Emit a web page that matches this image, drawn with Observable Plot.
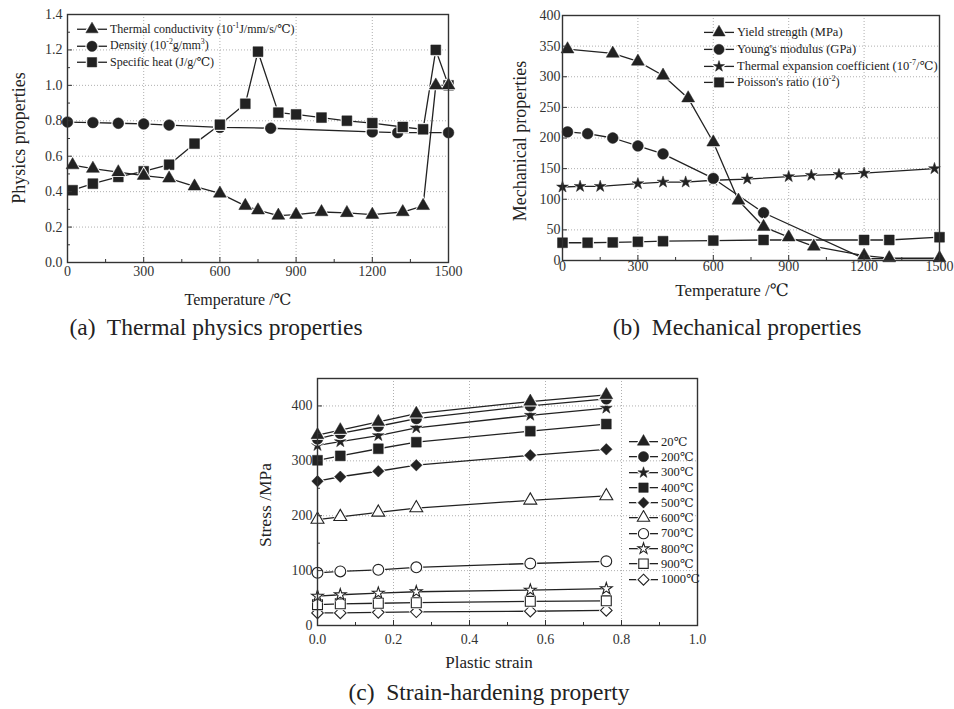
<!DOCTYPE html>
<html><head><meta charset="utf-8">
<script src="https://cdn.jsdelivr.net/npm/d3@7"></script>
<script src="https://cdn.jsdelivr.net/npm/@observablehq/plot@0.6"></script>
<style>
body{margin:0;background:#fff}
#fig{position:relative;width:954px;height:709px;background:#fff;font-family:"Liberation Serif","DejaVu Serif",serif;color:#222;overflow:hidden}
.abs{position:absolute;white-space:nowrap}
.cap{transform:translate(-50%,-50%)}
.axl{transform:translate(-50%,-50%)}
.rot{transform:translate(-50%,-50%) rotate(-90deg)}
.leg{position:absolute;white-space:nowrap}
.leg .row{display:flex;align-items:center}
.leg svg{display:block;margin-right:2px}
sup{font-size:65%;line-height:0;vertical-align:super}
</style></head>
<body><div id="fig"></div>
<script>
// ---------- Panel (a): thermal physics properties ----------
const tcT = [20,100,200,300,400,500,600,700,750,830,900,1000,1100,1200,1320,1400,1450,1500];
const tcV = [0.55,0.53,0.51,0.49,0.475,0.43,0.39,0.32,0.295,0.265,0.27,0.285,0.28,0.27,0.285,0.32,1.0,1.0];
const denT = [0,100,200,300,400,600,800,1200,1300,1500];
const denV = [0.793,0.79,0.786,0.782,0.776,0.763,0.758,0.737,0.733,0.733];
const shT = [20,100,200,300,400,500,600,700,750,830,900,1000,1100,1200,1320,1400,1450,1500];
const shV = [0.408,0.445,0.483,0.515,0.552,0.671,0.778,0.896,1.19,0.846,0.836,0.818,0.80,0.787,0.765,0.752,1.2,1.0];
const legendA = ["Thermal conductivity (10<sup>-1</sup>J/mm/s/℃)","Density (10<sup>-2</sup>g/mm<sup>3</sup>)","Specific heat (J/g/℃)"];

// ---------- Panel (b): mechanical properties ----------
const ysT = [20,200,300,400,500,600,700,800,900,1000,1200,1300,1500];
const ysV = [345,338,325,302,265,193,98,55,38,23,8,4,4];
const ymT = [20,100,200,300,400,600,800,1200,1500];
const ymV = [210,207,200,187,174,134,78,3,3];
const teT = [0,70,150,300,400,490,600,735,900,990,1100,1200,1480];
const teV = [120,121,121,125.5,128,128,131,133,137,139,140.5,142.5,150];
const prT = [0,100,200,300,400,600,800,1200,1300,1500];
const prV = [29,29,29.5,30.5,31.5,32.5,33.5,33.5,33.5,38];
const legendB = ["Yield strength (MPa)","Young's modulus (GPa)","Thermal expansion coefficient (10<sup>-7</sup>/℃)","Poisson's ratio (10<sup>-2</sup>)"];

// ---------- Panel (c): strain hardening ----------
const strain = [0,0.06,0.16,0.26,0.56,0.76];
const temps = ["20℃","200℃","300℃","400℃","500℃","600℃","700℃","800℃","900℃","1000℃"];
const s20 = [347,356,371,386,408,420];
const s200 = [340,350,363,377,400,413];
const s300 = [328,335,346,360,383,396];
const s400 = [301,309,322,334,354,367];
const s500 = [263,271,281,292,310,321];
const s600 = [193,198,206,214,228,236];
const s700 = [96,98.5,101.5,106,113,117];
const s800 = [53.5,56,59,61.5,64.5,67];
const s900 = [38,39.5,40.5,41.5,44,45];
const s1000 = [23,23,24,25,26,27.5];

const INK = "#222";
const fig = document.getElementById("fig");
const rows = (xs, ys) => xs.map((x, i) => ({x, y: ys[i]}));
const symMap = {triangle: d3.symbolTriangle, circle: d3.symbolCircle, star: d3.symbolStar, square: d3.symbolSquare, diamond2: d3.symbolDiamond2};
const symR = {triangle: 4.8, circle: 5.4, star: 3.7, square: 5.6, diamond2: 5.2};

function seriesMarks(s) {
  const data = rows(s.x, s.y);
  const dd = s.filter ? data.filter(s.filter) : data;
  const r = symR[s.symbol];
  return [
    Plot.line(data, {x: "x", y: "y", stroke: INK, strokeWidth: 1.3}),
    Plot.dot(dd, {x: "x", y: "y", symbol: s.symbol, r: r + 1.5, fill: "white", stroke: "none"}),
    Plot.dot(dd, {x: "x", y: "y", symbol: s.symbol, r, fill: s.open ? "white" : INK, stroke: INK, strokeWidth: s.open ? 1.1 : 0.5})
  ];
}

function panel(o) {
  const p = Plot.plot({
    width: o.width, height: o.height,
    marginLeft: o.ml, marginRight: o.mr, marginTop: o.mt, marginBottom: o.mb,
    x: {domain: o.xDomain},
    y: {domain: o.yDomain},
    style: {fontFamily: "'Liberation Serif', serif", fontSize: "14px", color: "#333", background: "transparent", overflow: "visible"},
    marks: [
      Plot.gridX({ticks: o.xMajor.slice(1, -1), stroke: "#9a9a9a", strokeOpacity: 1, strokeDasharray: "1,2", strokeWidth: 0.8}),
      Plot.gridY({ticks: o.yMajor.slice(1), stroke: "#9a9a9a", strokeOpacity: 1, strokeDasharray: "1,2", strokeWidth: 0.8}),
      ...o.series.flatMap(seriesMarks),
      Plot.axisX({ticks: o.xMajor, tickSize: -5, tickPadding: o.xPad, tickFormat: o.xFmt, label: null, fontSize: 14}),
      Plot.axisX({ticks: o.xMinor, tickSize: -3, tickFormat: () => "", label: null}),
      Plot.axisY({ticks: o.yMajor, tickSize: -5, tickPadding: o.yPad, tickFormat: o.yFmt, label: null, fontSize: 14}),
      Plot.axisY({ticks: o.yMinor, tickSize: -3, tickFormat: () => "", label: null}),
      Plot.frame({stroke: "#333", strokeWidth: 1.4})
    ]
  });
  p.style.position = "absolute";
  p.style.left = o.left + "px";
  p.style.top = o.top + "px";
  fig.appendChild(p);
}

function label(text, x, y, size, cls) {
  const d = document.createElement("div");
  d.className = "abs " + cls;
  d.style.left = x + "px"; d.style.top = y + "px"; d.style.fontSize = size + "px";
  d.innerHTML = text;
  fig.appendChild(d);
}

function legend(items, left, top, rowH, fontSize, symW) {
  const box = document.createElement("div");
  box.className = "leg";
  box.style.left = left + "px"; box.style.top = top + "px"; box.style.fontSize = fontSize + "px";
  items.forEach(it => {
    const row = document.createElement("div");
    row.className = "row"; row.style.height = rowH + "px";
    const svg = d3.create("svg").attr("width", symW).attr("height", rowH);
    const cy = rowH / 2;
    const r = symR[it.symbol] * 0.95;
    svg.append("line").attr("x1", 1).attr("x2", symW - 1).attr("y1", cy).attr("y2", cy).attr("stroke", INK).attr("stroke-width", 1.3);
    const path = d3.symbol(symMap[it.symbol], Math.PI * r * r)();
    svg.append("path").attr("transform", `translate(${symW/2},${cy})`).attr("d", path).attr("fill", "white").attr("stroke", "white").attr("stroke-width", 3);
    svg.append("path").attr("transform", `translate(${symW/2},${cy})`).attr("d", path).attr("fill", it.open ? "white" : INK).attr("stroke", INK).attr("stroke-width", it.open ? 1.1 : 0.5);
    row.appendChild(svg.node());
    const t = document.createElement("span");
    t.innerHTML = it.text;
    row.appendChild(t);
    box.appendChild(row);
  });
  fig.appendChild(box);
}

const f1 = d3.format(".1f");
const tMajor = [0,300,600,900,1200,1500];
const tMinor = [150,450,750,1050,1350];

// Panel (a)
panel({
  left: 0, top: 0, width: 470, height: 290, ml: 67, mr: 22, mt: 14, mb: 28,
  xDomain: [0,1500], yDomain: [0,1.4],
  xMajor: tMajor, xMinor: tMinor, xFmt: d3.format("d"), xPad: 9,
  yMajor: [0,0.2,0.4,0.6,0.8,1.0,1.2,1.4], yMinor: [0.1,0.3,0.5,0.7,0.9,1.1,1.3], yFmt: f1, yPad: 10,
  series: [
    {x: denT, y: denV, symbol: "circle"},
    {x: shT, y: shV, symbol: "square"},
    {x: tcT, y: tcV, symbol: "triangle"}
  ]
});
legend([
  {symbol: "triangle", text: legendA[0]},
  {symbol: "circle", text: legendA[1]},
  {symbol: "square", text: legendA[2]}
], 76, 21, 16.5, 12, 32);
label("Physics properties", 19, 138, 18, "rot");
label("Temperature /℃", 238, 299, 16, "axl");
label("(a)&nbsp; Thermal physics properties", 216, 327, 23.5, "cap");

// Panel (b)
panel({
  left: 480, top: 0, width: 474, height: 290, ml: 82, mr: 15, mt: 15, mb: 30,
  xDomain: [0,1500], yDomain: [0,400],
  xMajor: tMajor, xMinor: tMinor, xFmt: d3.format("d"), xPad: 6,
  yMajor: [0,50,100,150,200,250,300,350,400], yMinor: [], yFmt: d3.format("d"), yPad: 7,
  series: [
    {x: prT, y: prV, symbol: "square"},
    {x: teT, y: teV, symbol: "star"},
    {x: ymT, y: ymV, symbol: "circle", filter: d => d.x <= 800},
    {x: ysT, y: ysV, symbol: "triangle"}
  ]
});
legend([
  {symbol: "triangle", text: legendB[0]},
  {symbol: "circle", text: legendB[1]},
  {symbol: "star", text: legendB[2]},
  {symbol: "square", text: legendB[3]}
], 703, 24, 16.8, 12.5, 32);
label("Mechanical properties", 520, 141, 18, "rot");
label("Temperature /℃", 732, 290, 17, "axl");
label("(b)&nbsp; Mechanical properties", 737, 327, 23.5, "cap");

// Panel (c)
const seriesC = [s20,s200,s300,s400,s500,s600,s700,s800,s900,s1000];
const symC = ["triangle","circle","star","square","diamond2","triangle","circle","star","square","diamond2"];
panel({
  left: 240, top: 370, width: 480, height: 290, ml: 77, mr: 23, mt: 8, mb: 35,
  xDomain: [0,1], yDomain: [0,450],
  xMajor: [0,0.2,0.4,0.6,0.8,1.0], xMinor: [0.1,0.3,0.5,0.7,0.9], xFmt: f1, xPad: 14,
  yMajor: [0,100,200,300,400], yMinor: [50,150,250,350], yFmt: d3.format("d"), yPad: 10,
  series: seriesC.map((v, i) => ({x: strain, y: v, symbol: symC[i], open: i >= 5})).reverse()
});
legend(temps.map((t, i) => ({symbol: symC[i], open: i >= 5, text: t})), 628, 434, 15.3, 12.5, 31);
label("Stress /MPa", 265, 505, 17.5, "rot");
label("Plastic strain", 489, 663, 17, "axl");
label("(c)&nbsp; Strain-hardening property", 489, 692, 23.5, "cap");
</script>
</body></html>
